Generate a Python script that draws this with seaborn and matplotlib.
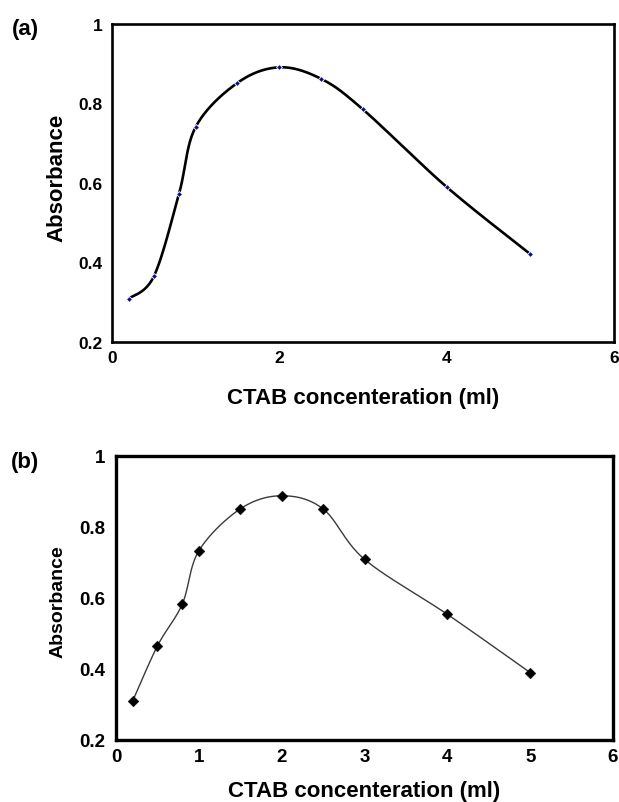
"""Absorbance vs CTAB concentration, two panels (a) and (b)."""

import numpy as np
import pandas as pd
import matplotlib
matplotlib.use('Agg')
import matplotlib.pyplot as plt
import seaborn as sns

# values
ctab_ml = [0.2, 0.5, 0.8, 1.0, 1.5, 2.0, 2.5, 3.0, 4.0, 5.0]
absorbance_a = [0.309, 0.365, 0.572, 0.741, 0.852, 0.891, 0.862, 0.785, 0.590, 0.421]
absorbance_b = [0.309, 0.465, 0.583, 0.733, 0.851, 0.888, 0.851, 0.709, 0.554, 0.390]

xticks_a = [0, 2, 4, 6]
xticks_b = [0, 1, 2, 3, 4, 5, 6]
yticks = [0.2, 0.4, 0.6, 0.8, 1.0]
ytick_labels = ['0.2', '0.4', '0.6', '0.8', '1']
xlabel = 'CTAB concenteration (ml)'
ylabel = 'Absorbance'


def smooth_line(x, y, steps=24):
    """Excel-like smoothed line (uniform Catmull-Rom through the points)."""
    pts = np.column_stack([x, y]).astype(float)
    n = len(pts)
    out = []
    for i in range(n - 1):
        p0 = pts[i - 1] if i > 0 else pts[i]
        p1 = pts[i]
        p2 = pts[i + 1]
        p3 = pts[i + 2] if i + 2 < n else pts[i + 1]
        t = np.linspace(0, 1, steps, endpoint=False)[:, None]
        seg = 0.5 * (2 * p1 + (-p0 + p2) * t
                     + (2 * p0 - 5 * p1 + 4 * p2 - p3) * t ** 2
                     + (-p0 + 3 * p1 - 3 * p2 + p3) * t ** 3)
        out.append(seg)
    out.append(pts[-1:])
    out = np.vstack(out)
    return pd.DataFrame({'x': out[:, 0], 'y': out[:, 1]})


sns.set_style('white')
plt.rcParams['font.family'] = ['Liberation Sans', 'DejaVu Sans']
plt.rcParams['text.color'] = 'black'
plt.rcParams['axes.labelcolor'] = 'black'

fig = plt.figure(figsize=(6.19, 8.03), dpi=100)
ax_a = fig.add_axes([112 / 619, 1 - 343 / 803, 502 / 619, 318 / 803])
ax_b = fig.add_axes([116 / 619, 1 - 741 / 803, 497 / 619, 284 / 803])

# panel (a)
curve_a = smooth_line(ctab_ml, absorbance_a)
sns.lineplot(data=curve_a, x='x', y='y', ax=ax_a, sort=False, estimator=None,
             color='black', linewidth=1.9)
sns.scatterplot(x=ctab_ml, y=absorbance_a, ax=ax_a, marker='D', s=9,
                color='#0a0a8c', edgecolor='white', linewidth=0.6, zorder=3)

# panel (b)
curve_b = smooth_line(ctab_ml, absorbance_b)
sns.lineplot(data=curve_b, x='x', y='y', ax=ax_b, sort=False, estimator=None,
             color='#3a3a3a', linewidth=1.0)
sns.scatterplot(x=ctab_ml, y=absorbance_b, ax=ax_b, marker='D', s=30,
                color='black', edgecolor='black', linewidth=0.3, zorder=3)

for ax, xt, lw, tsize, lsize, xpad, ypad in [
        (ax_a, xticks_a, 1.9, 12.5, 16, 6, 6.5),
        (ax_b, xticks_b, 2.4, 13.5, 16, 6, 7.5)]:
    ax.set_xlim(0, 6)
    ax.set_ylim(0.2, 1.0)
    ax.set_xticks(xt)
    ax.set_xticklabels([str(v) for v in xt])
    ax.set_yticks(yticks)
    ax.set_yticklabels(ytick_labels)
    for s in ax.spines.values():
        s.set_visible(True)
        s.set_color('black')
        s.set_linewidth(lw)
    ax.tick_params(axis='both', direction='in', length=4, width=0.8,
                   colors='black', labelsize=tsize)
    ax.tick_params(axis='x', pad=xpad)
    ax.tick_params(axis='y', pad=ypad)
    for lab in ax.get_xticklabels() + ax.get_yticklabels():
        lab.set_fontweight('bold')
    ax.set_xlabel(xlabel, fontsize=lsize, fontweight='bold', color='black')
    ax.set_ylabel(ylabel, fontweight='bold', color='black')

ax_a.yaxis.label.set_fontsize(16)
ax_b.yaxis.label.set_fontsize(14)
ax_a.xaxis.set_label_coords(0.5, -0.14)
ax_b.xaxis.set_label_coords(0.5, -0.14)
ax_a.yaxis.set_label_coords(-0.088, 0.52)
ax_b.yaxis.set_label_coords(-0.10, 0.49)

fig.text(25 / 619, 1 - 30 / 803, '(a)', ha='center', va='center',
         fontsize=16, fontweight='bold', color='black')
fig.text(25 / 619, 1 - 463 / 803, '(b)', ha='center', va='center',
         fontsize=16, fontweight='bold', color='black')

fig.savefig('out.png', dpi=100)
